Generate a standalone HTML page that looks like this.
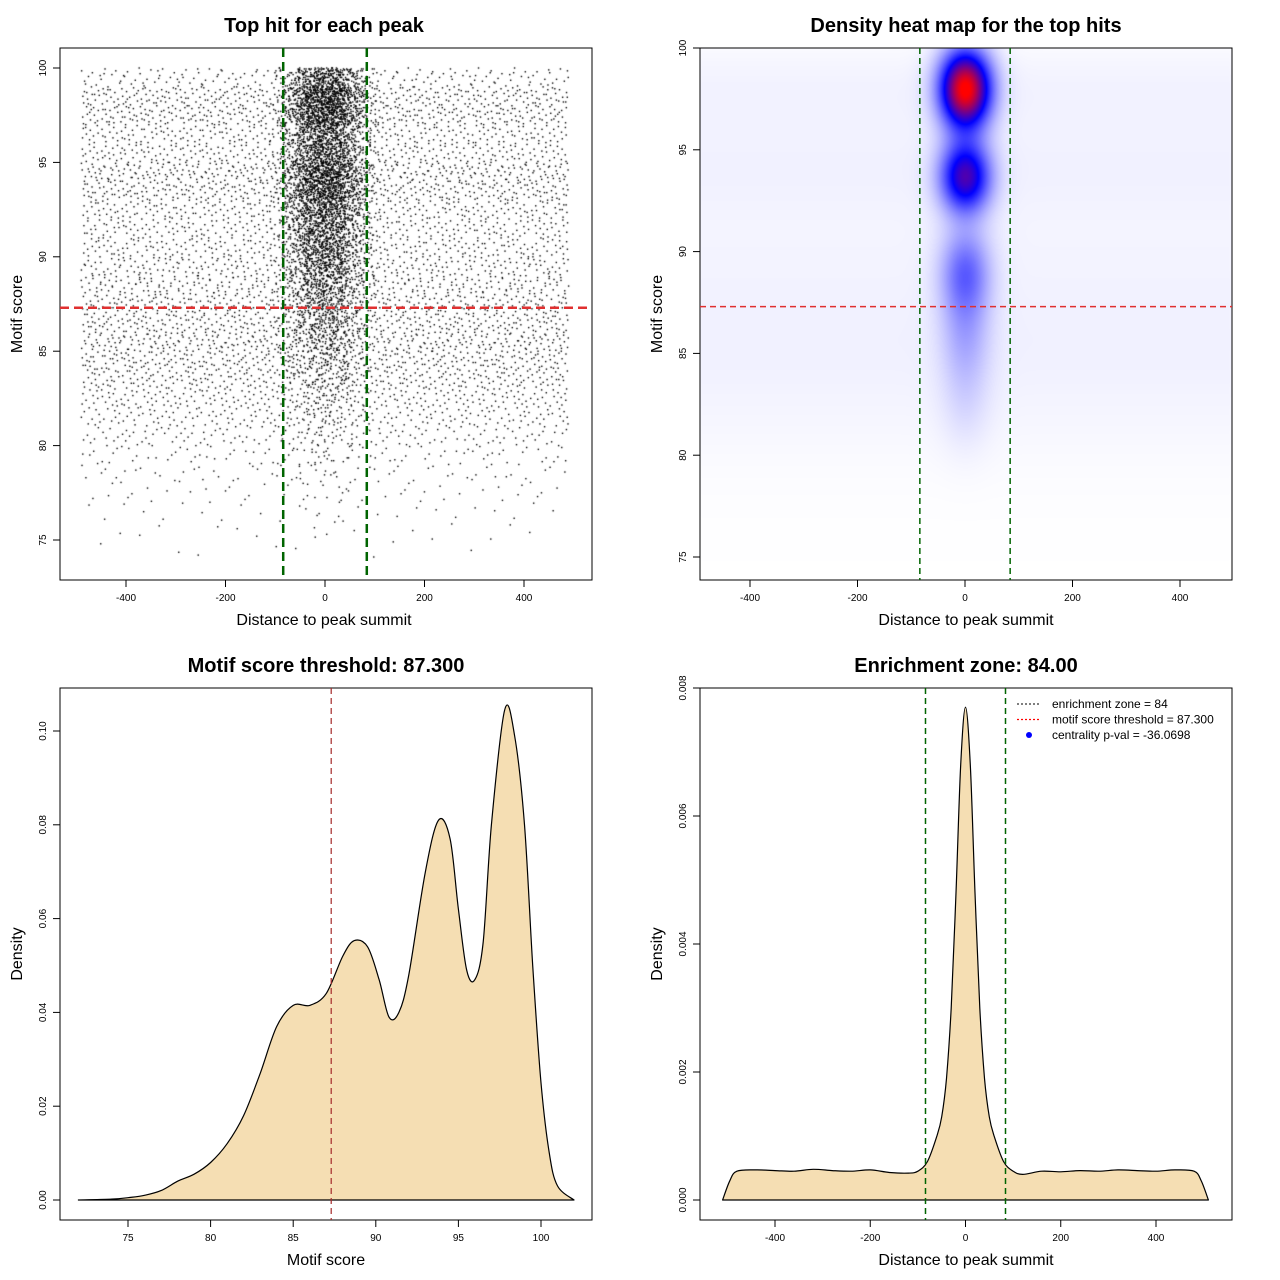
<!DOCTYPE html>
<html><head><meta charset="utf-8"><style>
html,body{margin:0;padding:0;background:#fff;}
#wrap{position:relative;width:1280px;height:1280px;overflow:hidden;font-family:"Liberation Sans",sans-serif;}
canvas{position:absolute;}
svg{position:absolute;left:0;top:0;}
text{font-family:"Liberation Sans",sans-serif;}
</style></head><body>
<div id="wrap">
<canvas id="sc" style="left:60px;top:48px" width="532" height="532"></canvas>
<canvas id="hm" style="left:700px;top:48px" width="532" height="532"></canvas>
<svg id="s" width="1280" height="1280"></svg>
</div>
<script>
// ---------- data ----------
const scoreRows = [74,75,76,77,78,79,80,81,82,83,84,85,86,87,88,89,90,91,92,93,94,95,96,97,98,99];
const bgRowCounts = [8,15,25,40,60,90,140,190,230,280,320,330,320,300,280,260,250,240,260,330,340,260,250,330,320,180];
const centerRowCounts = [0,2,4,6,10,15,20,30,40,60,80,110,140,170,220,280,320,330,380,480,500,380,360,520,560,360];
const scoreThreshold = 87.3;
const enrichZone = 84;
const heatBlobScores = [98,93.7,89,86,83];
const heatBlobWeights = [1.0,0.62,0.28,0.12,0.06];
const heatBlobSpread = [1.3,1.2,1.5,1.6,1.8];
const scoreX = [72,74,75,76,77,78,79,80,81,82,83,84,85,86,87,88,88.7,89.5,90.2,90.8,91.4,92,93,93.8,94.5,95,95.5,96,96.5,97,97.8,98.4,99,99.5,100,100.5,101,102];
const scoreDens = [0,0.0002,0.0005,0.001,0.002,0.004,0.0055,0.008,0.012,0.018,0.027,0.037,0.0415,0.0415,0.044,0.052,0.0553,0.054,0.047,0.039,0.040,0.048,0.07,0.081,0.077,0.062,0.049,0.047,0.055,0.08,0.1045,0.099,0.08,0.05,0.025,0.01,0.003,0];
const distX = [-510,-495,-480,-440,-400,-360,-320,-280,-240,-200,-160,-120,-100,-80,-60,-50,-40,-30,-20,-10,0,10,20,30,40,50,60,80,100,120,160,200,240,280,320,360,400,440,480,495,510];
const distDens = [0,0.0003,0.00045,0.00047,0.00046,0.00045,0.00048,0.00046,0.00045,0.00047,0.00043,0.00042,0.00045,0.0006,0.001,0.0013,0.0019,0.003,0.0048,0.0068,0.0077,0.0068,0.0048,0.003,0.0019,0.0013,0.001,0.0006,0.00045,0.0004,0.00045,0.00044,0.00046,0.00045,0.00047,0.00046,0.00045,0.00047,0.00045,0.0003,0];
const legendLabels = ["enrichment zone = 84","motif score threshold = 87.300","centrality p-val = -36.0698"];

// ---------- helpers ----------
const S=document.getElementById('s'),NS='http://www.w3.org/2000/svg';
function el(tag,attrs,txt,parent){const e=document.createElementNS(NS,tag);for(const k in attrs)e.setAttribute(k,attrs[k]);if(txt!=null)e.textContent=txt;(parent||S).appendChild(e);return e;}
function lin(d0,d1,r0,r1){return v=>r0+(v-d0)*(r1-r0)/(d1-d0);}
function halton(i,b){let f=1,r=0;while(i>0){f/=b;r+=f*(i%b);i=Math.floor(i/b);}return r;}
function smoothPath(pts){let d='M'+pts[0][0].toFixed(1)+','+pts[0][1].toFixed(1);
  for(let i=0;i<pts.length-1;i++){const p0=pts[Math.max(0,i-1)],p1=pts[i],p2=pts[i+1],p3=pts[Math.min(pts.length-1,i+2)];
    const c1x=p1[0]+(p2[0]-p0[0])/6,c1y=p1[1]+(p2[1]-p0[1])/6,c2x=p2[0]-(p3[0]-p1[0])/6,c2y=p2[1]-(p3[1]-p1[1])/6;
    d+=` C${c1x.toFixed(1)},${c1y.toFixed(1)} ${c2x.toFixed(1)},${c2y.toFixed(1)} ${p2[0].toFixed(1)},${p2[1].toFixed(1)}`;}
  return d;}

function panel(p){
  const g=el('g',{});  
  const t=el('text',{x:p.tx,y:p.y0-16,'text-anchor':'middle','font-size':20,'font-weight':'bold'},p.title,g);
  
  const box=el('rect',{x:p.x0,y:p.y0,width:532,height:532,fill:'none',stroke:'#000','stroke-width':1},null,g);
  
  const xa=el('g',{},null,g);
  const xt=p.xticks.map(v=>p.sx(v));
  el('line',{x1:xt[0],x2:xt[xt.length-1],y1:p.y0+532,y2:p.y0+532,stroke:'#000'},null,xa);
  p.xticks.forEach((v,i)=>{el('line',{x1:xt[i],x2:xt[i],y1:p.y0+532,y2:p.y0+539,stroke:'#000'},null,xa);
    el('text',{x:xt[i],y:p.y0+553,'text-anchor':'middle','font-size':10},String(v),xa);});
  const xl=el('text',{x:p.tx,y:p.y0+577,'text-anchor':'middle','font-size':16},p.xlabel,g);
  
  const ya=el('g',{},null,g);
  const yt=p.yticks.map(v=>p.sy(v));
  el('line',{x1:p.x0,x2:p.x0,y1:yt[0],y2:yt[yt.length-1],stroke:'#000'},null,ya);
  p.yticks.forEach((v,i)=>{el('line',{x1:p.x0,x2:p.x0-7,y1:yt[i],y2:yt[i],stroke:'#000'},null,ya);
    el('text',{x:p.x0-14,y:yt[i],'text-anchor':'middle','font-size':10,transform:`rotate(-90 ${p.x0-14} ${yt[i]})`},p.yfmt(v),ya);});
  const yl=el('text',{x:p.x0-38,y:p.y0+266,'text-anchor':'middle','font-size':16,transform:`rotate(-90 ${p.x0-38} ${p.y0+266})`},p.ylabel,g);
  
  return g;
}
function vline(g,x,y0,y1,col,w,da,name){const l=el('line',{x1:x,x2:x,y1:y0,y2:y1,stroke:col,'stroke-width':w,'stroke-dasharray':da},null,g);}
function hline(g,y,x0,x1,col,w,da,name){const l=el('line',{x1:x0,x2:x1,y1:y,y2:y,stroke:col,'stroke-width':w,'stroke-dasharray':da},null,g);}

// ---------- panel 1: scatter ----------
{
const sx=lin(0,400,325,524), sy=lin(100,75,68,540);
const g=panel({name:'scatter-panel',x0:60,y0:48,tx:324,title:'Top hit for each peak',xlabel:'Distance to peak summit',ylabel:'Motif score',
  sx,sy,xticks:[-400,-200,0,200,400],yticks:[75,80,85,90,95,100],yfmt:v=>String(v)});
const c=document.getElementById('sc').getContext('2d');c.fillStyle='#000';
let k=1;
scoreRows.forEach((r,i)=>{
  for(let j=0;j<bgRowCounts[i];j++,k++){const x=-490+980*halton(k,5);const y=r+Math.round(halton(k,3)*20)/20;if(y>100)continue;
    c.fillRect(sx(x)-60-0.7,sy(y)-48-0.7,1.4,1.4);}
  for(let j=0;j<centerRowCounts[i];j++,k++){const x=(halton(k,2)+halton(k,5)+halton(k,7)-1.5)*80;const y=r+Math.round(halton(k,3)*20)/20;if(y>100)continue;
    c.fillRect(sx(x)-60-0.7,sy(y)-48-0.7,1.4,1.4);}
});
vline(g,sx(-enrichZone),48,580,'#006400',2.5,'9,5','enrichment-left-line');
vline(g,sx(enrichZone),48,580,'#006400',2.5,'9,5','enrichment-right-line');
hline(g,sy(scoreThreshold),60,592,'#e03030',2.5,'9,5','threshold-line');
}

// ---------- panel 2: heatmap ----------
{
const sx=lin(0,400,965,1180), sy=lin(100,75,48,557);
const g=panel({name:'heatmap-panel',x0:700,y0:48,tx:966,title:'Density heat map for the top hits',xlabel:'Distance to peak summit',ylabel:'Motif score',
  sx,sy,xticks:[-400,-200,0,200,400],yticks:[75,80,85,90,95,100],yfmt:v=>String(v)});
const cv=document.getElementById('hm'),c=cv.getContext('2d');const img=c.createImageData(532,532);
const ux=lin(965-700,1180-700,0,400), uy=lin(0,557-48,100,75);
for(let py=0;py<532;py++){const s=uy(py);
  let bg=0;for(let i=0;i<scoreRows.length;i++){const d=s-scoreRows[i]-0.5;bg+=bgRowCounts[i]*Math.exp(-d*d/2);}
  bg=bg/340*0.012;
  for(let px=0;px<532;px++){const x=ux(px);let v=bg;
    if(x<-490||x>490)v*=Math.max(0,1-(Math.abs(x)-490)/20);
    for(let b=0;b<heatBlobScores.length;b++){const dy=(s-heatBlobScores[b])/heatBlobSpread[b],dx=x/32;v+=heatBlobWeights[b]*Math.exp(-(dx*dx+dy*dy)/2);}
    let R,G,B;if(v<0.5){const t=v/0.5;R=255*(1-t);G=255*(1-t);B=255;}else{const t=Math.min(1,(v-0.5)/0.5);R=255*t;G=0;B=255*(1-t);}
    const o=(py*532+px)*4;img.data[o]=R;img.data[o+1]=G;img.data[o+2]=B;img.data[o+3]=255;}}
c.putImageData(img,0,0);
vline(g,sx(-enrichZone),48,580,'#006400',1.5,'6,4','enrichment-left-line');
vline(g,sx(enrichZone),48,580,'#006400',1.5,'6,4','enrichment-right-line');
hline(g,sy(scoreThreshold),700,1232,'#e03030',1.5,'6,4','threshold-line');
}

// ---------- panel 3: score density ----------
{
const sx=lin(75,100,128,541), sy=lin(0,0.1,1200,731);
const g=panel({name:'score-density-panel',x0:60,y0:688,tx:326,title:'Motif score threshold: 87.300',xlabel:'Motif score',ylabel:'Density',
  sx,sy,xticks:[75,80,85,90,95,100],yticks:[0,0.02,0.04,0.06,0.08,0.10],yfmt:v=>v.toFixed(2)});
const d=smoothPath(scoreX.map((x,i)=>[sx(x),sy(scoreDens[i])]));
const a=el('path',{d:d+' Z',fill:'#f5deb3',stroke:'#000','stroke-width':1.2,'stroke-linejoin':'round'},null,g);

vline(g,sx(scoreThreshold),688,1220,'#a52a2a',1.2,'6,4','threshold-line');
}

// ---------- panel 4: distance density ----------
{
const sx=lin(0,400,965.5,1156), sy=lin(0,0.008,1200,688);
const g=panel({name:'distance-density-panel',x0:700,y0:688,tx:966,title:'Enrichment zone: 84.00',xlabel:'Distance to peak summit',ylabel:'Density',
  sx,sy,xticks:[-400,-200,0,200,400],yticks:[0,0.002,0.004,0.006,0.008],yfmt:v=>v.toFixed(3)});
const d=smoothPath(distX.map((x,i)=>[sx(x),sy(distDens[i])]));
const a=el('path',{d:d+' Z',fill:'#f5deb3',stroke:'#000','stroke-width':1.2,'stroke-linejoin':'round'},null,g);

vline(g,sx(-enrichZone),688,1220,'#006400',1.5,'6,4','enrichment-left-line');
vline(g,sx(enrichZone),688,1220,'#006400',1.5,'6,4','enrichment-right-line');
const lg=el('g',{},null,g);
const cols=['#333','#ff0000','#0000ff'];
legendLabels.forEach((t,i)=>{const y=704+i*15.5;
  const e=el('g',{},null,lg);
  if(i<2)el('line',{x1:1017,x2:1041,y1:y,y2:y,stroke:cols[i],'stroke-width':1.3,'stroke-dasharray':'2,2'},null,e);
  else el('circle',{cx:1029,cy:y,r:3,fill:cols[i]},null,e);
  el('text',{x:1052,y:y+4,'font-size':12},t,e);});
}
</script>
</body></html>
